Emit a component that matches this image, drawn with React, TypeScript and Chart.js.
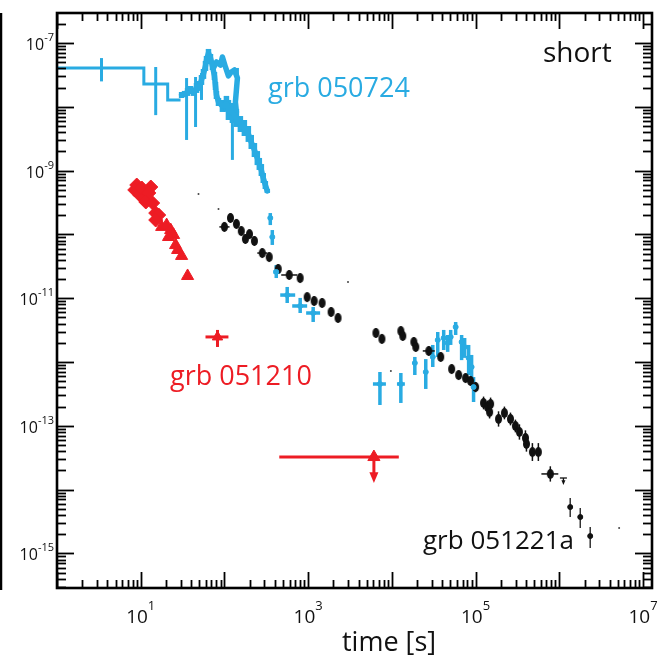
import { useEffect, useRef } from "react";
import { Chart, registerables } from "chart.js";
Chart.register(...registerables);

const BLUE = "#29ABE2";
const RED = "#ED1C24";
const BLACK = "#111111";
const FONT = "'Open Sans', 'Noto Sans', sans-serif";

// axis ranges
const X_MIN = 1;
const X_MAX = 1.28e7;
const Y_MIN = 2.87e-16;
const Y_MAX = 2.95e-7;
const xLabelExps = [1, 3, 5, 7];
const yLabelExps = [-7, -9, -11, -13, -15];

// GRB 050724 — BAT binned light curve (steps)
const batBinLo = [1, 10.9, 21];
const batBinHi = [10.9, 21, 29.9];
const batBinFlux = [4.06e-8, 2.27e-8, 1.28e-8];
// BAT error spikes
const batErrT = [3.4, 15.1, 35.3, 45.2, 53.2, 124.5, 143];
const batErrLo = [2.5e-8, 7.4e-9, 3.02e-9, 4.82e-9, 1.28e-8, 1.47e-9, 2.63e-8];
const batErrHi = [5.8e-8, 4.2e-8, 2.82e-8, 2.93e-8, 3.39e-8, 8.9e-9, 4.06e-8];
// dense BAT / early XRT curve
const batCurveT = [30.8, 33.4, 36.3, 39.4, 42.8, 46.4, 50.4, 53.2, 56.2, 59.4, 61.1, 64.5, 68.1, 71.9, 76.0, 78.2, 80.3, 84.9, 94.6, 105.6, 111.6, 124.5, 139, 155, 173, 193, 209, 228, 247, 261, 276, 291, 308, 325];
const batCurveF = [1.53e-8, 1.59e-8, 1.71e-8, 1.83e-8, 1.71e-8, 1.97e-8, 2.12e-8, 2.63e-8, 3.27e-8, 4.36e-8, 5.42e-8, 6.97e-8, 5.82e-8, 4.36e-8, 3.04e-8, 2.12e-8, 1.53e-8, 1.19e-8, 1.03e-8, 1.11e-8, 8.91e-9, 8.0e-9, 6.68e-9, 5.37e-9, 4.65e-9, 3.75e-9, 2.81e-9, 2.1e-9, 1.57e-9, 1.27e-9, 1.02e-9, 7.65e-10, 5.94e-10, 4.79e-10];
const batCurveErrDex = [0.047, 0.047, 0.063, 0.063, 0.063, 0.078, 0.078, 0.078, 0.078, 0.078, 0.063, 0.063, 0.063, 0.063, 0.063, 0.063, 0.063, 0.063, 0.094, 0.125, 0.157, 0.157, 0.141, 0.125, 0.125, 0.125, 0.11, 0.11, 0.11, 0.094, 0.094, 0.078, 0.063, 0.031];
// second branch of the flare
const batBranchT = [73.9, 80.3, 89.6, 94.6, 102.8, 111.6, 121, 131.5, 142.9, 139, 135.2, 139];
const batBranchF = [4.06e-8, 5.04e-8, 4.52e-8, 6.04e-8, 4.21e-8, 3.04e-8, 3.51e-8, 3.78e-8, 2.82e-8, 1.83e-8, 1.19e-8, 8.29e-9];
// GRB 050724 — XRT points
const xrtBlueT = [353, 373, 416, 562, 803, 1148, 7200, 12800, 18800, 25400, 30800, 35300, 41600, 46400, 50400, 57800, 68100, 74000, 82600, 89600, 94600];
const xrtBlueF = [1.81e-10, 9.1e-11, 2.58e-11, 1.12e-11, 7.55e-12, 5.86e-12, 4.52e-13, 4.52e-13, 9.64e-13, 6.97e-13, 1.2e-12, 2.21e-12, 2.38e-12, 1.99e-12, 2.47e-12, 3.54e-12, 2.06e-12, 1.72e-12, 1.16e-12, 8.35e-13, 4.05e-13];
const xrtBlueFLo = [1.4e-10, 6.83e-11, 2.07e-11, 8.41e-12, 5.86e-12, 4.24e-12, 2.12e-13, 2.28e-13, 6.25e-13, 3.78e-13, 8.35e-13, 1.2e-12, 1.54e-12, 1.44e-12, 1.85e-12, 2.65e-12, 1.07e-12, 1.16e-12, 6.25e-13, 5.22e-13, 2.36e-13];
const xrtBlueFHi = [2.16e-10, 1.17e-10, 3.31e-11, 1.5e-11, 1.01e-11, 7.28e-12, 6.97e-13, 6.73e-13, 1.2e-12, 1.11e-12, 1.85e-12, 2.95e-12, 3.18e-12, 2.65e-12, 3.18e-12, 4.24e-12, 2.65e-12, 2.38e-12, 1.85e-12, 1.29e-12, 5.82e-13];
const xrtBlueTLo = [null, null, 383, 464, 645, 946, 5940, 11500, null, null, null, null, null, null, null, null, null, null, null, null, null];
const xrtBlueTHi = [null, null, 464, 700, 973, 1390, 8490, 14300, null, null, null, null, null, null, null, null, null, null, null, null, null];

// GRB 051210
const redDiamT = [8.96, 8.48, 9.73, 10.3, 13.2, 12.5, 11.5, 13.9, 15.1, 16.4, 15.1];
const redDiamF = [5.94e-10, 4.97e-10, 4.15e-10, 5.33e-10, 5.53e-10, 4.46e-10, 3.22e-10, 3.1e-10, 2.16e-10, 2.01e-10, 1.68e-10];
const redTriT = [17.8, 20.4, 22.8, 24.7, 21.5, 26.1, 27.6, 30.8, 36.3];
const redTriF = [1.31e-10, 1.4e-10, 1.17e-10, 9.8e-11, 9.1e-11, 6.8e-11, 5.7e-11, 4.6e-11, 2.23e-11];
const redLateT = [82.6];
const redLateF = [2.47e-12];
const redLateTLo = [59.4];
const redLateTHi = [111.6];
const redLateFLo = [1.72e-12];
const redLateFHi = [3.18e-12];
const redUlT = [6100];
const redUlF = [3.24e-14];
const redUlTLo = [452];
const redUlTHi = [12100];
const redUlArrowTo = [1.27e-14];

// GRB 051221a
const blackT = [100, 118, 139, 159, 178, 199, 228, 283, 343, 439, 594, 803, 973, 1179, 1468, 1879, 2276, 6450, 7600, 12800, 13500, 18300, 19300, 27600, 38300, 51800, 62800, 76000, 87100, 100000, 124500, 139000, 147000, 151000, 188000, 221000, 261000, 299000, 334000, 394000, 405000, 477000, 562000, 781000];
const blackF = [1.31e-10, 1.81e-10, 1.46e-10, 1.13e-10, 8.47e-11, 1.01e-10, 7.88e-11, 5.1e-11, 4.42e-11, 2.87e-11, 2.31e-11, 2.07e-11, 1.04e-11, 9.04e-12, 8.41e-12, 6.08e-12, 4.9e-12, 2.85e-12, 2.3e-12, 3.06e-12, 2.56e-12, 2.06e-12, 1.72e-12, 1.49e-12, 1.2e-12, 7.76e-13, 6.25e-13, 5.61e-13, 5.04e-13, 4.05e-13, 2.28e-13, 1.97e-13, 1.64e-13, 2.2e-13, 1.28e-13, 1.59e-13, 1.28e-13, 9.93e-14, 8.0e-14, 6.44e-14, 5.19e-14, 3.88e-14, 3.88e-14, 1.76e-14];
const blackErrDex = [0.07, 0.07, 0.07, 0.07, 0.07, 0.07, 0.07, 0.07, 0.07, 0.07, 0.07, 0.07, 0.07, 0.07, 0.07, 0.07, 0.07, 0.07, 0.07, 0.07, 0.07, 0.07, 0.07, 0.07, 0.07, 0.07, 0.07, 0.07, 0.07, 0.08, 0.1, 0.1, 0.1, 0.1, 0.12, 0.1, 0.1, 0.1, 0.12, 0.12, 0.12, 0.14, 0.14, 0.12];
const blackTLo = [87, null, null, null, null, null, null, 247, null, null, 477, null, null, null, null, null, null, null, null, null, null, null, null, 23400, null, null, null, null, null, null, null, null, null, null, null, null, null, null, null, null, null, null, null, 611000];
const blackTHi = [115, null, null, null, null, null, null, 325, null, null, 740, null, null, null, null, null, null, null, null, null, null, null, null, 32500, null, null, null, null, null, null, null, null, null, null, null, null, null, null, null, null, null, null, null, 973000];
const blackLateT = [1.35e6, 1.78e6, 2.34e6];
const blackLateF = [5.33e-15, 3.72e-15, 1.87e-15];
const blackLateFLo = [3.72e-15, 2.5e-15, 1.22e-15];
const blackLateFHi = [7.38e-15, 5.15e-15, 2.59e-15];
const blackUlT = [1.12e6];
const blackUlF = [1.52e-14];
const blackUlArrowTo = [1.18e-14];
// tiny stray points
const strayT = [49, 84.9, 2990, 9730, 5.18e6];
const strayF = [4.3e-10, 2.5e-10, 1.79e-11, 7.23e-13, 2.5e-15];

const pts = (t: number[], f: number[]) => t.map((v, i) => ({ x: v, y: f[i] }));

const histPts: { x: number; y: number }[] = [];
batBinLo.forEach((lo, i) => {
  histPts.push({ x: lo, y: batBinFlux[i] });
  histPts.push({ x: batBinHi[i], y: batBinFlux[i] });
});

function ellipseMarker(w: number, h: number, color: string) {
  const c = document.createElement("canvas");
  c.width = w + 2;
  c.height = h + 2;
  const g = c.getContext("2d") as CanvasRenderingContext2D;
  g.fillStyle = color;
  g.beginPath();
  g.ellipse(c.width / 2, c.height / 2, w / 2, h / 2, 0, 0, Math.PI * 2);
  g.fill();
  return c;
}

const errPlugin = {
  id: "errBars",
  beforeDatasetsDraw(chart: any) {
    const { ctx, scales } = chart;
    const x = scales.x, y = scales.y;
    chart.data.datasets.forEach((ds: any) => {
      const e = ds.err;
      if (!e) return;
      ctx.save();
      ctx.strokeStyle = e.color;
      ctx.lineWidth = e.width;
      ds.data.forEach((p: any, i: number) => {
        const px = x.getPixelForValue(p.x);
        const py = y.getPixelForValue(p.y);
        if (e.tLo && e.tLo[i] != null) {
          ctx.beginPath();
          ctx.moveTo(x.getPixelForValue(e.tLo[i]), py);
          ctx.lineTo(x.getPixelForValue(e.tHi[i]), py);
          ctx.stroke();
        }
        if (e.fLo && e.fLo[i] != null) {
          ctx.beginPath();
          ctx.moveTo(px, y.getPixelForValue(e.fLo[i]));
          ctx.lineTo(px, y.getPixelForValue(e.fHi[i]));
          ctx.stroke();
        }
      });
      ctx.restore();
    });
  },
};

const arrowPlugin = {
  id: "arrows",
  afterDatasetsDraw(chart: any) {
    const { ctx, scales } = chart;
    const x = scales.x, y = scales.y;
    const items = [
      ...redUlT.map((t, i) => ({ t, f0: redUlF[i], f1: redUlArrowTo[i], color: RED, w: 3, head: 9, cap: 0 })),
      ...blackUlT.map((t, i) => ({ t, f0: blackUlF[i], f1: blackUlArrowTo[i], color: BLACK, w: 1.3, head: 4, cap: 7 })),
    ];
    items.forEach((a) => {
      const px = x.getPixelForValue(a.t);
      const p0 = y.getPixelForValue(a.f0);
      const p1 = y.getPixelForValue(a.f1);
      ctx.save();
      ctx.strokeStyle = a.color;
      ctx.fillStyle = a.color;
      ctx.lineWidth = a.w;
      ctx.beginPath();
      ctx.moveTo(px, p0);
      ctx.lineTo(px, p1 - a.head);
      ctx.stroke();
      if (a.cap) {
        ctx.beginPath();
        ctx.moveTo(px - a.cap / 2, p0);
        ctx.lineTo(px + a.cap / 2, p0);
        ctx.stroke();
      }
      ctx.beginPath();
      ctx.moveTo(px - a.head / 2, p1 - a.head * 1.2);
      ctx.lineTo(px + a.head / 2, p1 - a.head * 1.2);
      ctx.lineTo(px, p1);
      ctx.closePath();
      ctx.fill();
      ctx.restore();
    });
  },
};

const framePlugin = {
  id: "frame",
  afterDraw(chart: any) {
    const { ctx, chartArea: a, scales } = chart;
    const x = scales.x, y = scales.y;
    ctx.save();
    ctx.strokeStyle = "#000";
    // edge of the neighbouring panel on the far left
    ctx.lineWidth = 2.5;
    ctx.beginPath();
    ctx.moveTo(1, a.top);
    ctx.lineTo(1, a.bottom + 2);
    ctx.stroke();
    // frame
    ctx.lineWidth = 2.6;
    ctx.strokeRect(a.left, a.top, a.right - a.left, a.bottom - a.top);
    ctx.lineWidth = 1.8;
    const seg = (x0: number, y0: number, x1: number, y1: number) => {
      ctx.beginPath();
      ctx.moveTo(x0, y0);
      ctx.lineTo(x1, y1);
      ctx.stroke();
    };
    for (let d = 0; d <= 7; d++) {
      for (let k = 1; k <= 9; k++) {
        const v = k * Math.pow(10, d);
        if (v < X_MIN || v > X_MAX) continue;
        const px = Math.round(x.getPixelForValue(v)) + 0.5;
        const len = k === 1 ? 16 : 8;
        seg(px, a.bottom, px, a.bottom - len);
        seg(px, a.top, px, a.top + len);
      }
    }
    for (let d = -16; d <= -7; d++) {
      for (let k = 1; k <= 9; k++) {
        const v = k * Math.pow(10, d);
        if (v < Y_MIN || v > Y_MAX) continue;
        const py = Math.round(y.getPixelForValue(v)) + 0.5;
        const len = k === 1 ? 17 : 9;
        seg(a.left, py, a.left + len, py);
        seg(a.right, py, a.right - len, py);
      }
    }
    // tick labels
    ctx.fillStyle = "#111";
    ctx.textBaseline = "alphabetic";
    ctx.textAlign = "left";
    yLabelExps.forEach((e) => {
      const py = y.getPixelForValue(Math.pow(10, e));
      ctx.font = `16px ${FONT}`;
      const wb = ctx.measureText("10").width;
      ctx.font = `11px ${FONT}`;
      const es = String(e);
      const we = ctx.measureText(es).width;
      const right = 54;
      ctx.font = `16px ${FONT}`;
      ctx.fillText("10", right - we - wb, py + 7);
      ctx.font = `11px ${FONT}`;
      ctx.fillText(es, right - we, py - 2);
    });
    xLabelExps.forEach((e) => {
      const px = x.getPixelForValue(Math.pow(10, e));
      ctx.font = `19px ${FONT}`;
      const wb = ctx.measureText("10").width;
      ctx.font = `13px ${FONT}`;
      const es = String(e);
      const we = ctx.measureText(es).width;
      const left = px - (wb + we) / 2;
      ctx.font = `19px ${FONT}`;
      ctx.fillText("10", left, 623);
      ctx.font = `13px ${FONT}`;
      ctx.fillText(es, left + wb, 610);
    });
    // annotations
    const txt = (s: string, px: number, py: number, size: number, color: string) => {
      ctx.font = `${size}px ${FONT}`;
      ctx.fillStyle = color;
      ctx.fillText(s, px, py);
    };
    txt("short", 543, 62, 28, "#111");
    txt("grb 050724", 268, 97, 27, BLUE);
    txt("grb 051210", 170, 385, 27, RED);
    txt("grb 051221a", 423, 549, 26, "#111");
    txt("time [s]", 342, 651, 27, "#111");
    ctx.restore();
  },
};

export default function App() {
  const ref = useRef<HTMLCanvasElement>(null);
  useEffect(() => {
    const blackDot = ellipseMarker(7, 10, BLACK);
    const datasets: any[] = [
      {
        label: "BAT bins",
        data: histPts,
        showLine: true,
        borderColor: BLUE,
        borderWidth: 3,
        pointRadius: 0,
      },
      {
        label: "BAT errors",
        data: pts(batErrT, batErrLo),
        pointRadius: 0,
        err: { fLo: batErrLo, fHi: batErrHi, color: BLUE, width: 3 },
      },
      {
        label: "050724 curve",
        data: pts(batCurveT, batCurveF),
        showLine: true,
        borderColor: BLUE,
        borderWidth: 5.5,
        borderJoinStyle: "round",
        borderCapStyle: "round",
        pointRadius: 0,
        err: {
          fLo: batCurveF.map((f, i) => f / Math.pow(10, batCurveErrDex[i])),
          fHi: batCurveF.map((f, i) => f * Math.pow(10, batCurveErrDex[i])),
          color: BLUE,
          width: 5.5,
        },
      },
      {
        label: "050724 curve b",
        data: pts(batBranchT, batBranchF),
        showLine: true,
        borderColor: BLUE,
        borderWidth: 5.5,
        borderJoinStyle: "round",
        borderCapStyle: "round",
        pointRadius: 0,
      },
      {
        label: "050724 XRT",
        data: pts(xrtBlueT, xrtBlueF),
        backgroundColor: BLUE,
        borderColor: BLUE,
        pointRadius: 2.5,
        err: { fLo: xrtBlueFLo, fHi: xrtBlueFHi, tLo: xrtBlueTLo, tHi: xrtBlueTHi, color: BLUE, width: 3.5 },
      },
      {
        label: "051210 a",
        data: pts(redDiamT, redDiamF),
        pointStyle: "rectRot",
        pointRadius: 7,
        backgroundColor: RED,
        borderColor: RED,
      },
      {
        label: "051210 b",
        data: pts(redTriT, redTriF),
        pointStyle: "triangle",
        pointRadius: 7,
        backgroundColor: RED,
        borderColor: RED,
      },
      {
        label: "051210 late",
        data: pts(redLateT, redLateF),
        pointStyle: "triangle",
        pointRadius: 6,
        backgroundColor: RED,
        borderColor: RED,
        err: { fLo: redLateFLo, fHi: redLateFHi, tLo: redLateTLo, tHi: redLateTHi, color: RED, width: 3 },
      },
      {
        label: "051210 UL",
        data: pts(redUlT, redUlF),
        pointStyle: "triangle",
        pointRadius: 7,
        backgroundColor: RED,
        borderColor: RED,
        err: { tLo: redUlTLo, tHi: redUlTHi, color: RED, width: 3 },
      },
      {
        label: "051221a",
        data: pts(blackT, blackF),
        pointStyle: blackDot,
        pointRadius: 5,
        backgroundColor: BLACK,
        borderColor: BLACK,
        err: {
          fLo: blackF.map((f, i) => f / Math.pow(10, blackErrDex[i])),
          fHi: blackF.map((f, i) => f * Math.pow(10, blackErrDex[i])),
          tLo: blackTLo,
          tHi: blackTHi,
          color: BLACK,
          width: 1.5,
        },
      },
      {
        label: "051221a late",
        data: pts(blackLateT, blackLateF),
        pointRadius: 2.5,
        backgroundColor: BLACK,
        borderColor: BLACK,
        err: { fLo: blackLateFLo, fHi: blackLateFHi, color: "#333", width: 1.5 },
      },
      {
        label: "stray",
        data: pts(strayT, strayF),
        pointRadius: 1,
        backgroundColor: "#444",
        borderColor: "#444",
        borderWidth: 0,
      },
    ];
    const chart = new Chart(ref.current as HTMLCanvasElement, {
      type: "scatter",
      data: { datasets },
      options: {
        responsive: false,
        animation: false,
        devicePixelRatio: 1,
        layout: { padding: { left: 57, right: 5, top: 13, bottom: 73 } },
        scales: {
          x: { type: "logarithmic", min: X_MIN, max: X_MAX, display: false },
          y: { type: "logarithmic", min: Y_MIN, max: Y_MAX, display: false },
        },
        plugins: { legend: { display: false }, tooltip: { enabled: false } },
      },
      plugins: [errPlugin, arrowPlugin, framePlugin],
    } as any);
    return () => chart.destroy();
  }, []);
  return (
    <div style={{ position: "fixed", left: 0, top: 0, width: 660, height: 661, background: "#fff" }}>
      <canvas ref={ref} width={660} height={661} style={{ display: "block" }} />
    </div>
  );
}
